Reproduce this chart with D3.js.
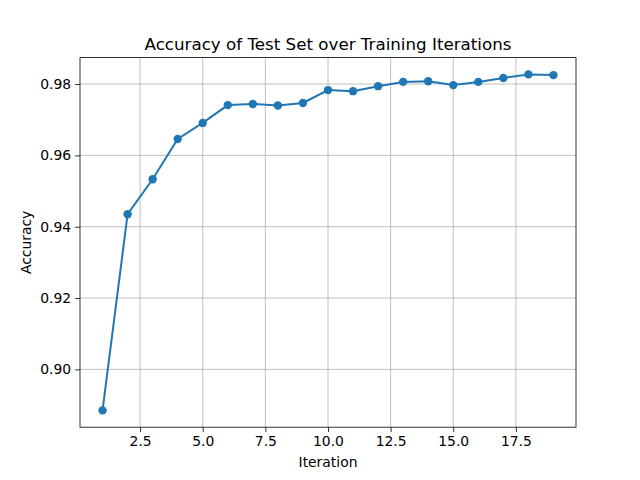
<!DOCTYPE html>
<html>
<head>
<meta charset="utf-8">
<script src="https://cdn.jsdelivr.net/npm/d3@7"></script>
<style>
  body { margin: 0; background: #fff; }
  text { font-family: "DejaVu Sans", sans-serif; }
</style>
</head>
<body>
<svg id="chart" width="640" height="480"></svg>
<script>
// values
var iterations = [1, 2, 3, 4, 5, 6, 7, 8, 9, 10, 11, 12, 13, 14, 15, 16, 17, 18, 19];
var accuracy = [0.8885, 0.9435, 0.9533, 0.9646, 0.9691, 0.9741, 0.9744, 0.9740, 0.9747,
                0.9783, 0.9780, 0.9794, 0.9806, 0.9808, 0.9797, 0.9806, 0.9817, 0.9827, 0.9825];
var xTicks = [2.5, 5.0, 7.5, 10.0, 12.5, 15.0, 17.5];
var yTicks = [0.90, 0.92, 0.94, 0.96, 0.98];

var margin = { left: 80, right: 64, top: 57.6, bottom: 52.8 };
var W = 640, H = 480;
var svg = d3.select('#chart');

function padded(ext) {
  var p = (ext[1] - ext[0]) * 0.05;
  return [ext[0] - p, ext[1] + p];
}

var x = d3.scaleLinear().domain(padded(d3.extent(iterations)))
  .range([margin.left, W - margin.right]);
var y = d3.scaleLinear().domain(padded(d3.extent(accuracy)))
  .range([H - margin.bottom, margin.top]);

// grid
var g = svg.append('g');
xTicks.forEach(function (t) {
  g.append('line').attr('x1', x(t)).attr('x2', x(t))
    .attr('y1', margin.top).attr('y2', H - margin.bottom)
    .attr('stroke', '#b0b0b0').attr('stroke-width', 0.8);
});
yTicks.forEach(function (t) {
  g.append('line').attr('y1', y(t)).attr('y2', y(t))
    .attr('x1', margin.left).attr('x2', W - margin.right)
    .attr('stroke', '#b0b0b0').attr('stroke-width', 0.8);
});

// axes
var xAxis = svg.append('g').attr('transform', 'translate(0,' + (H - margin.bottom) + ')')
  .call(d3.axisBottom(x).tickValues(xTicks).tickFormat(d3.format('.1f')).tickSizeOuter(0).tickSize(4.9).tickPadding(4));
var yAxis = svg.append('g').attr('transform', 'translate(' + margin.left + ',0)')
  .call(d3.axisLeft(y).tickValues(yTicks).tickFormat(d3.format('.2f')).tickSizeOuter(0).tickSize(4.9).tickPadding(4));
[xAxis, yAxis].forEach(function (a) {
  a.selectAll('text').attr('font-size', 13.9).attr('fill', '#000');
  a.selectAll('line').attr('stroke', '#000').attr('stroke-width', 0.8);
  a.select('.domain').remove();
});

// frame
svg.append('rect').attr('x', margin.left).attr('y', margin.top)
  .attr('width', W - margin.left - margin.right).attr('height', H - margin.top - margin.bottom)
  .attr('fill', 'none').attr('stroke', '#000').attr('stroke-width', 0.8);

// line + markers
var pts = iterations.map(function (d, i) { return [d, accuracy[i]]; });
svg.append('path').datum(pts)
  .attr('d', d3.line().x(function (d) { return x(d[0]); }).y(function (d) { return y(d[1]); }))
  .attr('fill', 'none').attr('stroke', '#1f77b4').attr('stroke-width', 2);
svg.selectAll('circle.pt').data(pts).enter().append('circle')
  .attr('cx', function (d) { return x(d[0]); })
  .attr('cy', function (d) { return y(d[1]); })
  .attr('r', 4.2).attr('fill', '#1f77b4');

// labels
svg.append('text').attr('x', (margin.left + W - margin.right) / 2).attr('y', 50)
  .attr('text-anchor', 'middle').attr('font-size', 16.7).text('Accuracy of Test Set over Training Iterations');
svg.append('text').attr('x', (margin.left + W - margin.right) / 2).attr('y', 467)
  .attr('text-anchor', 'middle').attr('font-size', 13.9).text('Iteration');
svg.append('text').attr('transform', 'translate(31,' + ((margin.top + H - margin.bottom) / 2) + ') rotate(-90)')
  .attr('text-anchor', 'middle').attr('font-size', 13.9).text('Accuracy');
</script>
</body>
</html>
